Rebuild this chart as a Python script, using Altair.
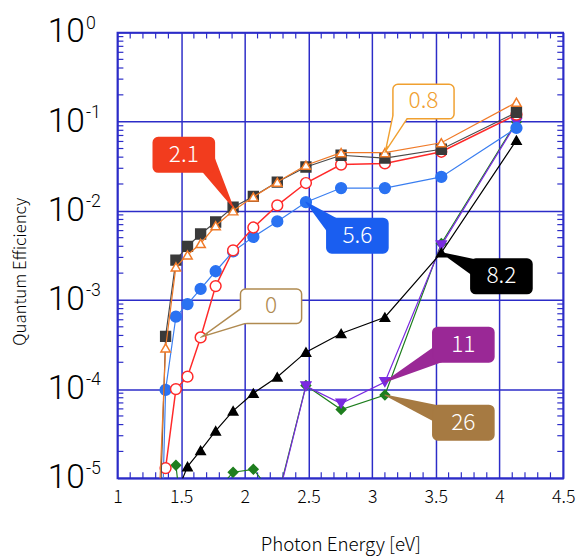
import math
import altair as alt
import pandas as pd

# ---------------- data ----------------
energy = [1.305, 1.378, 1.459, 1.550, 1.653, 1.771, 1.908, 2.067, 2.255, 2.480, 2.756, 3.100, 3.543, 4.133]

qe_2p1 = [2e-7, 3.9e-4, 2.8e-3, 4.0e-3, 5.5e-3, 7.5e-3, 1.1e-2, 1.45e-2, 2.1e-2, 3.1e-2, 4.2e-2, 3.9e-2, 4.9e-2, 0.127]
qe_0p8 = [1e-6, 2.9e-4, 2.35e-3, 3.2e-3, 4.3e-3, 6.8e-3, 1.0e-2, 1.43e-2, 2.1e-2, 3.25e-2, 4.5e-2, 4.5e-2, 5.8e-2, 0.165]
qe_0 = [None, 1.3e-5, 1.0e-4, 1.38e-4, 3.8e-4, 1.43e-3, 3.6e-3, 6.5e-3, 1.15e-2, 2.05e-2, 3.3e-2, 3.4e-2, 4.6e-2, 0.12]
qe_5p6 = [1e-8, 9.8e-5, 6.5e-4, 9.0e-4, 1.33e-3, 2.1e-3, 3.5e-3, 5.1e-3, 7.6e-3, 1.25e-2, 1.8e-2, 1.8e-2, 2.4e-2, 0.085]
qe_8p2 = [None, None, 6.5e-6, 1.35e-5, 2.05e-5, 3.4e-5, 5.7e-5, 9.0e-5, 1.37e-4, 2.6e-4, 4.2e-4, 6.4e-4, 3.4e-3, 0.062]
qe_11 = [None, None, None, None, None, None, None, None, 5.5e-6, 1.08e-4, 6.9e-5, 1.2e-4, 4.1e-3, 0.097]
qe_26 = [None, None, 1.4e-5, 1e-6, 2e-6, 7e-6, 1.17e-5, 1.26e-5, 5.8e-6, 1.1e-4, 5.9e-5, 8.6e-5, 4.3e-3, 0.10]

x_ticks = [1, 1.5, 2, 2.5, 3, 3.5, 4, 4.5]
y_ticks = [1, 1e-1, 1e-2, 1e-3, 1e-4, 1e-5]
y_exponents = ["0", "-1", "-2", "-3", "-4", "-5"]

# callouts: label, box centre (data), tip (data point it refers to)
callout_labels = ["2.1", "0.8", "5.6", "0", "8.2", "11", "26"]
callout_cx = [1.521, 3.403, 2.884, 2.206, 4.015, 3.716, 3.716]
callout_cy = [0.0425, 0.168, 5.26e-3, 8.5e-4, 1.84e-3, 3.15e-4, 4.2e-5]
callout_tipx = [1.908, 3.100, 2.480, 1.653, 3.543, 3.100, 3.100]
callout_tipy = [1.1e-2, 4.5e-2, 1.25e-2, 3.8e-4, 3.4e-3, 1.2e-4, 8.6e-5]

# ---------------- styling / layout ----------------
W, H = 452, 452
XMIN, XMAX = 1.0, 4.5
YLOGMIN, YLOGMAX = -5, 0
BLUE = "#2c2cc8"
FONT = "Noto Sans CJK JP"
LABEL_FONT = "Roboto"
FW = 300

def px_x(v):
    return (v - XMIN) / (XMAX - XMIN) * W

def px_y(v):
    return (YLOGMAX - math.log10(v)) / (YLOGMAX - YLOGMIN) * H

def data_x(p):
    return XMIN + p / W * (XMAX - XMIN)

def data_y(p):
    return 10 ** (YLOGMAX - p / H * (YLOGMAX - YLOGMIN))

xscale = alt.Scale(domain=[XMIN, XMAX], nice=False, zero=False)
yscale = alt.Scale(type="log", domain=[10 ** YLOGMIN, 10 ** YLOGMAX], nice=False)

xaxis = alt.Axis(values=x_ticks, format="~g", grid=True, gridColor=BLUE, gridWidth=1.5,
                 gridOpacity=1, domain=False, ticks=False, labelFont=FONT, labelFontSize=18,
                 labelFontWeight=FW,
                 labelColor="black", labelPadding=11, labelFlush=False, labelOverlap=False,
                 title="Photon Energy [eV]", titleFont=FONT, titleFontSize=19,
                 titleFontWeight=FW, titleColor="black", titleBaseline="alphabetic",
                 titleY=73)
yaxis = alt.Axis(values=y_ticks, grid=True, gridColor=BLUE, gridWidth=1.5, gridOpacity=1,
                 domain=False, ticks=False, labels=False,
                 title="Quantum Efficiency", titleFont=FONT, titleFontSize=17,
                 titleFontWeight=FW, titleColor="black", titleAngle=-90,
                 titleX=-98, titleY=242, titleAlign="center", titleBaseline="middle")


def X(field):
    return alt.X(field, type="quantitative", scale=xscale, axis=xaxis)


def Y(field):
    return alt.Y(field, type="quantitative", scale=yscale, axis=yaxis)


series = [
    # values, line colour, shape, fill, stroke, size, line width
    (qe_26, "#1e7e1e", "diamond", "#1e7e1e", "#1e7e1e", 90, 1.2),
    (qe_11, "#7a2ae0", "triangle-down", "#7a2ae0", "#7a2ae0", 100, 1.2),
    (qe_8p2, "#000000", "triangle-up", "#000000", "#000000", 90, 1.2),
    (qe_5p6, "#3a7ef0", "circle", "#2a72f2", "#2a72f2", 120, 1.2),
    (qe_0, "#ff2a2a", "circle", "white", "#ff2a2a", 120, 1.5),
    (qe_2p1, "#4a4a4a", "square", "#3a3a3a", "#3a3a3a", 100, 1.2),
    (qe_0p8, "#f07a28", "triangle-up", "white", "#f07a28", 90, 1.2),
]

layers = []

# minor ticks (inside the frame)
x_minor = [round(1 + 0.1 * i, 1) for i in range(1, 35) if round(1 + 0.1 * i, 1) not in x_ticks]
y_minor = [k * 10 ** d for d in range(-5, 0) for k in range(2, 10)]
dfxm = pd.DataFrame({"v": x_minor})
dfym = pd.DataFrame({"v": y_minor})
layers.append(alt.Chart(dfxm).mark_rule(color=BLUE, strokeWidth=1.2).encode(
    x=X("v"), y=alt.value(H), y2=alt.value(H - 6)))
layers.append(alt.Chart(dfxm).mark_rule(color=BLUE, strokeWidth=1.2).encode(
    x=X("v"), y=alt.value(0), y2=alt.value(6)))
layers.append(alt.Chart(dfym).mark_rule(color=BLUE, strokeWidth=1.2).encode(
    y=Y("v"), x=alt.value(0), x2=alt.value(6)))
layers.append(alt.Chart(dfym).mark_rule(color=BLUE, strokeWidth=1.2).encode(
    y=Y("v"), x=alt.value(W - 6), x2=alt.value(W)))

# data series
for vals, lc, shape, fill, stroke, size, lw in series:
    df = pd.DataFrame({"e": energy, "q": vals}).dropna()
    layers.append(alt.Chart(df).mark_line(color=lc, strokeWidth=lw, clip=True).encode(
        x=X("e"), y=Y("q")))
    layers.append(alt.Chart(df).mark_point(shape=shape, fill=fill, stroke=stroke, filled=False,
                                           fillOpacity=1, strokeWidth=1.5, opacity=1, size=size,
                                           clip=True).encode(x=X("e"), y=Y("q")))

# y tick labels 10^n
dfy = pd.DataFrame({"v": y_ticks, "base": ["10"] * len(y_ticks), "exp": y_exponents})
layers.append(alt.Chart(dfy).mark_text(align="right", baseline="middle", font=LABEL_FONT,
                                       fontSize=34, fontWeight=FW, color="black").encode(
    x=alt.value(-33), y=Y("v"), text="base:N"))
layers.append(alt.Chart(dfy).mark_text(align="left", baseline="middle", font=LABEL_FONT,
                                       fontSize=18, fontWeight=FW, color="black", dy=-9).encode(
    x=alt.value(-32), y=Y("v"), text="exp:N"))

# callouts
callout_style = {
    "2.1": ("#f23c1e", "#f23c1e", "white", False, (22, 6)),
    "0.8": ("white", "#f0a030", "#f0a030", True, (-20, 6)),
    "5.6": ("#1a5ef0", "#1a5ef0", "white", False, (-20, -6)),
    "0": ("white", "#b08a50", "#b08a50", True, (-20, 6)),
    "8.2": ("#000000", "#000000", "white", False, (-20, -6)),
    "11": ("#9a2896", "#9a2896", "white", False, (-18, 6)),
    "26": ("#a67a42", "#a67a42", "white", False, (-18, -6)),
}
BOX_W, BOX_H, WEDGE = 62, 35, 20

trail_rows, white_rows, box_rows = [], [], []
for lab, cx, cy, tx, ty in zip(callout_labels, callout_cx, callout_cy, callout_tipx, callout_tipy):
    fill, stroke, tcol, outlined, (bdx, bdy) = callout_style[lab]
    cpx, cpy = px_x(cx), px_y(cy)
    tpx, tpy = px_x(tx), px_y(ty)
    bpx, bpy = cpx + bdx, cpy + bdy
    trail_rows += [
        {"lab": lab, "o": 0, "x": tx, "y": ty, "w": 0.0, "c": stroke},
        {"lab": lab, "o": 1, "x": data_x(bpx), "y": data_y(bpy), "w": WEDGE, "c": stroke},
    ]
    if outlined:
        L = math.hypot(bpx - tpx, bpy - tpy)
        a = 3.0 * L / WEDGE
        spx = tpx + (bpx - tpx) * a / L
        spy = tpy + (bpy - tpy) * a / L
        white_rows += [
            {"lab": lab, "o": 0, "x": data_x(spx), "y": data_y(spy), "w": 0.0},
            {"lab": lab, "o": 1, "x": data_x(bpx), "y": data_y(bpy), "w": WEDGE * (L - a) / L},
        ]
    box_rows.append({"lab": lab, "x0": data_x(cpx - BOX_W / 2), "x1": data_x(cpx + BOX_W / 2),
                     "y0": data_y(cpy + BOX_H / 2), "y1": data_y(cpy - BOX_H / 2),
                     "cx": cx, "cy": cy, "fill": fill, "stroke": stroke, "tc": tcol})

dft = pd.DataFrame(trail_rows)
dfw = pd.DataFrame(white_rows)
dfb = pd.DataFrame(box_rows)

layers.append(alt.Chart(dft).mark_trail().encode(
    x=X("x"), y=Y("y"), size=alt.Size("w:Q", scale=None, legend=None),
    color=alt.Color("c:N", scale=None, legend=None), detail="lab:N", order="o:Q"))
layers.append(alt.Chart(dfb).mark_rect(cornerRadius=5, strokeWidth=1.5).encode(
    x=X("x0"), x2="x1", y=Y("y0"), y2="y1",
    fill=alt.Fill("fill:N", scale=None, legend=None),
    stroke=alt.Stroke("stroke:N", scale=None, legend=None)))
layers.append(alt.Chart(dfw).mark_trail(color="white").encode(
    x=X("x"), y=Y("y"), size=alt.Size("w:Q", scale=None, legend=None),
    detail="lab:N", order="o:Q"))
layers.append(alt.Chart(dfb).mark_text(font=FONT, fontSize=23, fontWeight=FW,
                                       baseline="middle", align="center").encode(
    x=X("cx"), y=Y("cy"), text="lab:N",
    color=alt.Color("tc:N", scale=None, legend=None)))

chart = alt.layer(*layers).properties(
    width=W, height=H,
    autosize=alt.AutoSizeParams(type="none"),
    padding={"left": 111, "top": 21, "right": 14, "bottom": 78},
).configure_view(stroke=BLUE, strokeWidth=1.8)

chart.save("out.html", embed_options={"renderer": "svg", "actions": False})
